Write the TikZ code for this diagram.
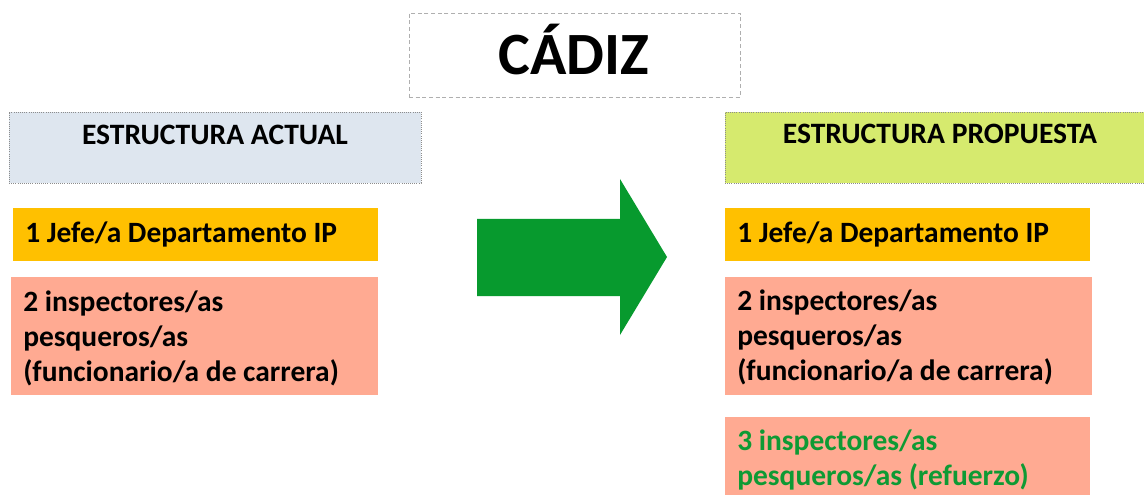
\documentclass[tikz,border=0pt]{standalone}
\usepackage{fontspec}
\setmainfont{Carlito}
\usetikzlibrary{fit}
\definecolor{hdrblue}{HTML}{DEE6EF}
\definecolor{hdrgreen}{HTML}{D6EA6E}
\definecolor{jefeorange}{HTML}{FFC000}
\definecolor{salmon}{HTML}{FFAA92}
\definecolor{arrowgreen}{HTML}{079A2E}
\definecolor{textgreen}{HTML}{0E9A34}
\definecolor{bordergray}{HTML}{8C8C8C}
\tikzset{
  box/.style={inner sep=0pt, outer sep=0pt, draw=none},
  hdrbox/.style={box, draw=bordergray, densely dotted, line width=0.6pt},
  titlebox/.style={box, draw=bordergray!70, densely dashed, line width=0.5pt},
  hdrtext/.style={anchor=base, inner sep=0pt, font=\fontsize{22.2}{26}\selectfont\bfseries},
  bodytext/.style={anchor=base west, inner sep=0pt, align=left, font=\fontsize{22.1}{26.25}\selectfont\bfseries},
}
\begin{document}
\begin{tikzpicture}[x=0.75pt, y=-0.75pt]
\useasboundingbox[fill=white] (0,0) rectangle (1144,495);
% title
\node[titlebox, fit={(409,13)(740,97)}] (title) {};
\node[anchor=base, inner sep=0pt, font=\fontsize{45}{50}\selectfont\bfseries] (titletext) at (574,75) {CÁDIZ};
% headers
\node[hdrbox, fill=hdrblue, fit={(9,112)(421,183)}] (actual) {};
\node[hdrtext] (actualtext) at (215,145) {ESTRUCTURA ACTUAL};
\node[hdrbox, fill=hdrgreen, fit={(725,112)(1150,183)}] (prop) {};
\node[hdrtext] (proptext) at (940,144) {ESTRUCTURA PROPUESTA};
% left column
\node[box, fill=jefeorange, fit={(13,208)(378,261)}] (jefeL) {};
\node[bodytext] (jefeLtext) at (25,242) {1 Jefe/a Departamento IP};
\node[box, fill=salmon, fit={(11,277)(378,395)}] (inspL) {};
\node[bodytext] (inspLtext) at (23,381) {2 inspectores/as\\pesqueros/as\\(funcionario/a de carrera)};
% right column
\node[box, fill=jefeorange, fit={(725,208)(1090,261)}] (jefeR) {};
\node[bodytext] (jefeRtext) at (737,242) {1 Jefe/a Departamento IP};
\node[box, fill=salmon, fit={(725,277)(1092,395)}] (inspR) {};
\node[bodytext] (inspRtext) at (737,380) {2 inspectores/as\\pesqueros/as\\(funcionario/a de carrera)};
\node[box, fill=salmon, fit={(725,417)(1090,500)}] (refR) {};
\node[bodytext, text=textgreen] (refRtext) at (737,485) {3 inspectores/as\\pesqueros/as (refuerzo)};
% arrow
\fill[arrowgreen] (477,219) -- (620,219) -- (620,179) -- (667,257) -- (620,335) -- (620,296) -- (477,296) -- cycle;
\end{tikzpicture}
\end{document}
